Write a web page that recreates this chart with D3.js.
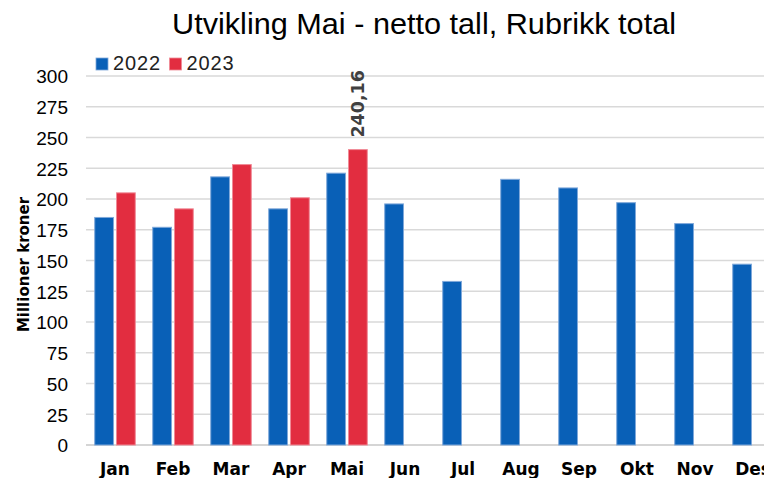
<!DOCTYPE html>
<html>
<head>
<meta charset="utf-8">
<script src="https://cdn.jsdelivr.net/npm/d3@7"></script>
<style>
  body { margin: 0; background: #fff; }
  svg { display: block; }
</style>
</head>
<body>
<svg id="chart" width="764" height="478"></svg>
<script>
const months = ['Jan','Feb','Mar','Apr','Mai','Jun','Jul','Aug','Sep','Okt','Nov','Des'];
const values2022 = [185, 177, 218, 192, 221, 196, 133, 216, 209, 197, 180, 147];
const values2023 = [205, 192, 228, 201, 240.16];
const yTicks = [0, 25, 50, 75, 100, 125, 150, 175, 200, 225, 250, 275, 300];
const seriesNames = ['2022', '2023'];
const colors = ['#0960B7', '#E22D40'];
const strokes = ['#7FA8DA', '#F08A96'];

const svg = d3.select('#chart');
const plot = {left: 86, right: 782, top: 76, bottom: 445};

const x = d3.scaleBand()
  .domain(months)
  .range([plot.left, plot.right]);

const y = d3.scaleLinear()
  .domain([0, 300])
  .range([plot.bottom, plot.top]);

// inner scale for the two bars in a group
const xi = d3.scaleBand()
  .domain(seriesNames)
  .range([0, x.bandwidth()])
  .paddingInner(0.14)
  .paddingOuter(0.4);

// gridlines
svg.append('g')
  .selectAll('line')
  .data(yTicks)
  .join('line')
  .attr('x1', plot.left)
  .attr('x2', 764)
  .attr('y1', d => y(d))
  .attr('y2', d => y(d))
  .attr('stroke', '#d9d9d9')
  .attr('stroke-width', 1.3);

// y axis labels
const yAxis = d3.axisLeft(y).tickValues(yTicks).tickSize(0).tickPadding(0);
svg.append('g')
  .attr('transform', 'translate(68,0)')
  .call(yAxis)
  .call(g => g.select('.domain').remove())
  .call(g => g.selectAll('text')
    .attr('font-family', 'Liberation Sans')
    .attr('font-size', 19)
    .attr('fill', '#000')
    .attr('dy', '0.36em'));

// x axis
const xAxis = d3.axisBottom(x).tickSize(0).tickPadding(0);
svg.append('g')
  .attr('transform', `translate(0,${plot.bottom})`)
  .call(xAxis)
  .call(g => g.select('.domain').remove())
  .call(g => g.selectAll('text')
    .attr('font-family', 'DejaVu Sans')
    .attr('font-weight', 'bold')
    .attr('font-size', 17)
    .attr('fill', '#000')
    .attr('dy', 30));

svg.append('line')
  .attr('x1', plot.left).attr('x2', 764)
  .attr('y1', plot.bottom).attr('y2', plot.bottom)
  .attr('stroke', '#d0d0d0')
  .attr('stroke-width', 1.5);

// bars
const series = [values2022, values2023];
series.forEach((vals, si) => {
  svg.append('g')
    .selectAll('rect')
    .data(vals)
    .join('rect')
    .attr('x', (d, i) => x(months[i]) + xi(seriesNames[si]))
    .attr('y', d => y(d))
    .attr('width', xi.bandwidth())
    .attr('height', d => y(0) - y(d))
    .attr('fill', colors[si])
    .attr('stroke', strokes[si])
    .attr('stroke-width', 1);
});

// data label on Mai 2023
const maiIdx = 4;
const lx = x(months[maiIdx]) + xi('2023') + xi.bandwidth() / 2;
const ly = y(values2023[maiIdx]) - 12;
svg.append('text')
  .attr('transform', `translate(${lx + 6.5},${ly}) rotate(-90)`)
  .attr('font-family', 'DejaVu Sans')
  .attr('font-weight', 'bold')
  .attr('font-size', 17.5)
  .attr('fill', '#404040')
  .text(d3.format('.2f')(values2023[maiIdx]).replace('.', ','));

// y axis title
svg.append('text')
  .attr('transform', `translate(29,${(plot.top + plot.bottom) / 2 + 4}) rotate(-90)`)
  .attr('text-anchor', 'middle')
  .attr('font-family', 'DejaVu Sans')
  .attr('font-weight', 'bold')
  .attr('font-size', 15)
  .attr('fill', '#000')
  .text('Millioner kroner');

// title
svg.append('text')
  .attr('x', 172)
  .attr('y', 34)
  .attr('font-family', 'Liberation Sans')
  .attr('font-size', 30)
  .attr('textLength', 504)
  .attr('lengthAdjust', 'spacingAndGlyphs')
  .attr('fill', '#000')
  .text('Utvikling Mai - netto tall, Rubrikk total');

// legend
const legend = svg.append('g').attr('transform', 'translate(96,58)');
const lg = legend.selectAll('g')
  .data(seriesNames)
  .join('g')
  .attr('transform', (d, i) => `translate(${i * 73.5},0)`);
lg.append('rect')
  .attr('width', 12).attr('height', 12)
  .attr('fill', (d, i) => colors[i])
  .attr('stroke', (d, i) => strokes[i])
  .attr('stroke-width', 0.8);
lg.append('text')
  .attr('x', 17).attr('y', 12)
  .attr('font-family', 'Liberation Sans')
  .attr('font-size', 20)
  .attr('textLength', 47)
  .attr('fill', '#222')
  .text(d => d);
</script>
</body>
</html>
